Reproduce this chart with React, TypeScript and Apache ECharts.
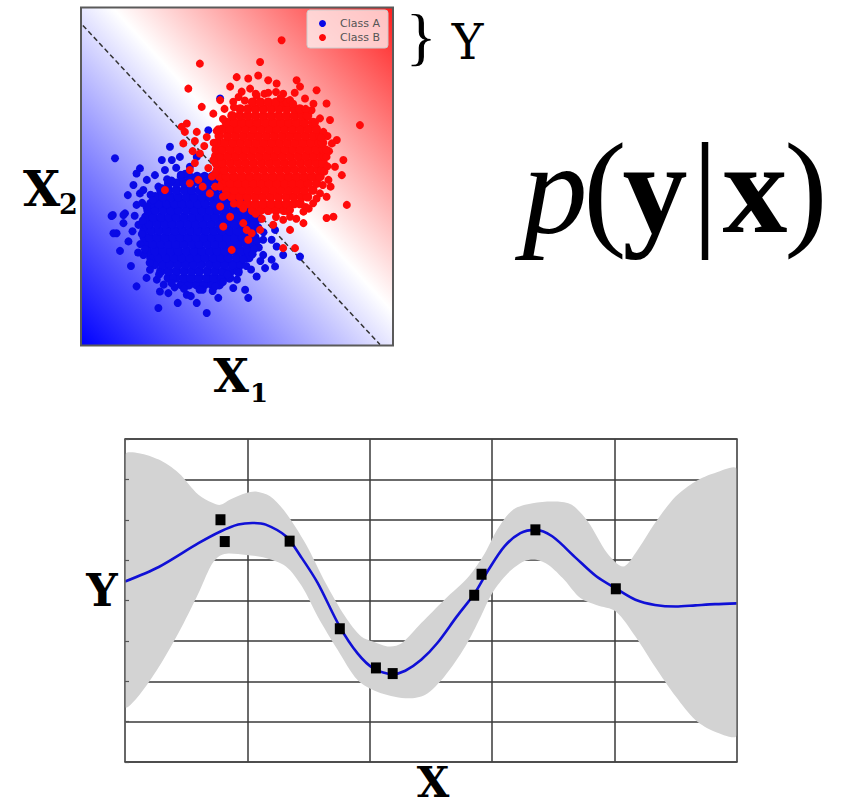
import React, { useEffect, useRef } from "react";
import * as echarts from "echarts";

// ---------- Upper panel: two-class scatter, coordinates in percent of the panel ----------
// Dense cores are listed row by row as [y, xs[]]; stragglers as [x, y] pairs.
const classACore: [number, number[]][] = [
  [18, [32.2, 34.6, 37.1, 39.5, 42.0, 44.3]],
  [20, [28.0, 30.4, 33.0, 35.3, 37.8, 40.4, 42.7, 45.1, 47.6]],
  [22, [25.6, 28.1, 30.7, 33.1, 35.6, 38.0, 40.6, 43.1, 45.5, 48.0, 50.3]],
  [24, [23.6, 26.2, 28.6, 31.1, 33.7, 36.1, 38.6, 41.2, 43.6, 46.1, 48.7, 51.2]],
  [26, [22.4, 24.9, 27.4, 29.9, 32.3, 34.9, 37.4, 39.8, 42.4, 44.9, 47.3, 49.9, 52.4, 53.8]],
  [28, [21.4, 23.8, 26.3, 28.8, 31.2, 33.8, 36.3, 38.7, 41.3, 43.7, 46.2, 48.8, 51.2, 53.6]],
  [30, [20.7, 23.1, 25.6, 28.1, 30.5, 33.0, 35.6, 38.0, 40.5, 43.0, 45.5, 48.0, 50.5, 53.0, 55.3]],
  [32, [20.3, 22.0, 24.5, 27.0, 29.4, 31.9, 34.4, 36.9, 39.4, 41.9, 44.4, 46.8, 49.3, 51.8, 54.2, 55.7]],
  [34, [20.2, 22.6, 25.1, 27.6, 30.1, 32.6, 35.1, 37.6, 40.1, 42.6, 45.1, 47.6, 50.1, 52.6, 55.0]],
  [36, [20.4, 21.9, 24.4, 26.9, 29.3, 31.8, 34.3, 36.8, 39.3, 41.8, 44.3, 46.8, 49.3, 51.8, 54.2, 55.6]],
  [38, [20.8, 23.2, 25.7, 28.2, 30.6, 33.1, 35.7, 38.1, 40.6, 43.1, 45.6, 48.1, 50.6, 53.0, 55.2]],
  [40, [21.5, 23.9, 26.4, 28.9, 31.3, 33.9, 36.4, 38.8, 41.4, 43.8, 46.3, 48.9, 51.3, 53.8]],
  [42, [22.4, 25.0, 27.5, 30.0, 32.4, 35.0, 37.5, 39.9, 42.5, 45.0, 47.4, 50.0, 52.5]],
  [44, [23.8, 26.3, 28.8, 31.2, 33.8, 36.2, 38.8, 41.3, 43.7, 46.2, 48.8, 51.3]],
  [46, [25.6, 28.1, 30.6, 33.1, 35.5, 38.1, 40.6, 43.0, 45.6, 48.1, 50.2]],
  [48, [28.1, 30.6, 33.1, 35.6, 38.1, 40.5, 43.0, 45.5, 47.8]],
  [50, [32.2, 34.7, 37.2, 39.6, 42.1, 44.0]],
];

const classAStray: [number, number][] = [
  [10.2, 38.6], [11.4, 33.2], [13.6, 36.2], [15.2, 30.8], [14.1, 39.1], [17.8, 17.5],
  [24.8, 11.1], [25.3, 16.0], [28.0, 15.5], [33.9, 15.0], [37.1, 12.6], [40.3, 9.6],
  [44.0, 14.1], [48.8, 17.0], [52.6, 16.5], [53.6, 14.1], [56.3, 20.4], [59.0, 22.9],
  [62.2, 23.4], [64.8, 26.8], [70.2, 26.3], [61.1, 31.3], [62.2, 34.2], [20.0, 26.8],
  [22.1, 22.4], [24.3, 19.5], [16.8, 47.5], [18.9, 45.0], [17.8, 41.6], [10.9, 55.4],
  [28.5, 58.8], [25.9, 54.9], [29.1, 54.9], [31.7, 55.8], [18.9, 52.4], [17.8, 50.9],
  [21.1, 49.0], [23.7, 50.4], [20.0, 46.0], [24.8, 47.0], [26.9, 51.9], [9.8, 38.3],
  [13.6, 38.6], [10.4, 33.2], [18.4, 35.7], [40.8, 63.7], [44.6, 73.1], [37.1, 55.8],
  [34.9, 52.9], [58.4, 26.8], [61.1, 25.4], [62.7, 29.3], [58.4, 31.3], [19.0, 30.0],
  [18.3, 27.5], [21.0, 20.0], [26.5, 18.0], [30.0, 17.2], [45.5, 18.8], [50.0, 19.5],
  [54.5, 22.5], [57.5, 25.0], [57.0, 29.0], [58.5, 33.5], [57.4, 37.5], [16.5, 33.8],
  [17.2, 38.4], [19.6, 42.2], [22.3, 44.6], [35.2, 14.6], [42.2, 16.1], [31.0, 12.6],
  [30.5, 52.6], [33.4, 50.8], [27.6, 49.2], [16.0, 23.5], [12.5, 28.0], [15.0, 44.5],
  [29.5, 20.0], [39.0, 16.5], [47.0, 21.0], [52.0, 25.5], [55.5, 28.5],
  [19.5, 33.0], [19.8, 37.0], [20.5, 28.5], [22.0, 24.5], [25.0, 21.0], [29.0, 18.5],
  [33.0, 16.8], [38.0, 16.5], [43.0, 17.5], [50.5, 21.5], [53.0, 23.5], [55.0, 27.0],
  [56.5, 31.0], [56.8, 35.0], [56.0, 39.0], [21.0, 41.0], [23.0, 43.0], [26.0, 46.5],
  [29.0, 48.8], [32.0, 50.5],
];

const classBCore: [number, number[]][] = [
  [40, [55.0, 57.5, 60.0, 62.5, 65.0, 66.3]],
  [42, [51.0, 53.4, 55.9, 58.4, 60.9, 63.4, 65.9, 68.3, 70.2]],
  [44, [48.4, 50.9, 53.3, 55.8, 58.3, 60.8, 63.2, 65.8, 68.2, 70.7, 72.6]],
  [46, [46.6, 49.1, 51.6, 54.1, 56.6, 59.1, 61.6, 64.1, 66.6, 69.1, 71.6, 74.3]],
  [48, [45.4, 47.9, 50.4, 52.8, 55.3, 57.8, 60.3, 62.8, 65.3, 67.8, 70.3, 72.8, 75.5]],
  [50, [44.4, 46.6, 49.1, 51.6, 54.1, 56.6, 59.1, 61.6, 64.1, 66.6, 69.1, 71.6, 74.1, 76.6]],
  [52, [43.8, 46.0, 48.5, 51.0, 53.5, 56.0, 58.5, 61.0, 63.5, 66.0, 68.5, 71.0, 73.5, 76.0, 77.3]],
  [54, [43.3, 45.3, 47.8, 50.3, 52.8, 55.3, 57.8, 60.3, 62.8, 65.3, 67.8, 70.3, 72.8, 75.3, 77.6]],
  [56, [43.2, 44.6, 47.1, 49.6, 52.1, 54.6, 57.1, 59.6, 62.1, 64.6, 67.1, 69.6, 72.1, 74.6, 77.1, 78.0]],
  [58, [43.3, 45.4, 47.9, 50.4, 52.9, 55.4, 57.9, 60.4, 62.9, 65.4, 67.9, 70.4, 72.9, 75.4, 77.7]],
  [60, [43.7, 46.2, 48.7, 51.2, 53.7, 56.2, 58.7, 61.2, 63.7, 66.2, 68.7, 71.2, 73.7, 76.2, 77.4]],
  [62, [44.3, 47.0, 49.5, 52.0, 54.5, 57.0, 59.5, 62.0, 64.5, 67.0, 69.5, 72.0, 74.5, 76.7]],
  [64, [45.4, 47.8, 50.3, 52.8, 55.3, 57.8, 60.3, 62.8, 65.3, 67.8, 70.3, 72.8, 75.4]],
  [66, [46.6, 49.1, 51.6, 54.1, 56.6, 59.1, 61.6, 64.1, 66.6, 69.1, 71.6, 74.3]],
  [68, [48.4, 50.9, 53.4, 55.9, 58.4, 60.9, 63.4, 65.9, 68.4, 70.9, 72.6]],
  [70, [51.0, 53.5, 56.0, 58.5, 61.0, 63.5, 66.0, 68.5, 70.1]],
  [72, [55.0, 57.5, 60.0, 62.5, 65.0, 66.2]],
];

const classBStray: [number, number][] = [
  [38.1, 83.4], [57.4, 83.9], [34.4, 76.0], [49.9, 79.4], [53.6, 79.0], [56.8, 79.9],
  [60.0, 78.5], [62.7, 77.5], [69.1, 78.5], [70.2, 76.6], [75.5, 75.5], [78.7, 71.6],
  [89.4, 65.2], [79.8, 66.7], [82.0, 60.8], [84.1, 54.9], [83.6, 50.4], [85.2, 41.6],
  [80.9, 38.1], [78.7, 37.7], [71.3, 36.2], [67.0, 34.2], [33.9, 65.7], [33.3, 63.2],
  [38.7, 70.6], [42.4, 68.6], [44.6, 72.6], [48.8, 72.1], [47.8, 76.6], [51.5, 75.1],
  [54.2, 76.0], [56.3, 74.0], [64.8, 74.5], [67.0, 72.6], [71.8, 73.1], [73.9, 69.6],
  [76.6, 67.2], [77.7, 63.2], [80.4, 59.8], [78.7, 55.8], [81.4, 52.9], [79.3, 49.0],
  [76.6, 45.0], [78.7, 44.0], [74.4, 42.1], [71.3, 39.6], [67.0, 40.1], [64.8, 37.2],
  [61.6, 35.7], [54.7, 33.2], [48.3, 28.3], [57.4, 34.2], [34.9, 51.9], [37.6, 49.0],
  [41.3, 45.0], [44.6, 41.1], [47.8, 38.1], [52.0, 36.2], [32.8, 59.8], [37.1, 63.2],
  [40.3, 61.7], [38.1, 56.8], [42.4, 54.9], [64.3, 90.3], [64.8, 28.8], [68.6, 28.8],
  [26.9, 46.0], [32.3, 64.7], [53.6, 31.3], [45.6, 35.2], [53.1, 34.2], [34.9, 48.0],
  [67.0, 38.1], [36.5, 60.5], [39.5, 59.0], [35.8, 57.5], [40.8, 52.5], [39.0, 47.0],
  [42.0, 50.0], [36.5, 54.0], [50.5, 73.5], [58.8, 74.5], [62.5, 75.0], [68.5, 74.8],
  [46.0, 70.0], [74.5, 71.5], [79.5, 57.5], [80.0, 47.0], [78.0, 51.5], [79.0, 62.0],
  [58.0, 37.5], [62.5, 38.0], [69.0, 37.5], [73.0, 40.5], [44.0, 64.0], [43.0, 47.0],
  [45.5, 44.0],
  [49.0, 70.5], [52.5, 72.5], [56.0, 74.5], [60.0, 74.8], [64.0, 73.2], [68.0, 71.5],
  [72.0, 70.0], [75.0, 66.0], [77.0, 61.5], [78.5, 58.0], [79.0, 53.0], [77.5, 47.5],
  [75.5, 43.5], [72.0, 41.0], [56.0, 39.0], [52.0, 40.5], [49.0, 42.0], [46.5, 44.5],
  [44.5, 47.0], [43.0, 51.0], [42.5, 60.0], [43.5, 63.5], [45.5, 67.0],
];

// Decision boundary end points
const boundaryX = [0.6, 95.8];
const boundaryY = [94.7, 0.3];

// ---------- Lower panel: regression fit with uncertainty band ----------
const obsX = [0.78, 0.815, 1.345, 1.755, 2.05, 2.187, 2.853, 2.913, 3.353, 4.01];
const obsY = [2.0, 1.46, 1.47, -0.7, -1.67, -1.81, 0.13, 0.65, 1.75, 0.29];

const meanX = [0, 0.276, 0.6, 0.78, 0.925, 1.04, 1.15, 1.315, 1.445, 1.575, 1.753, 1.9, 2.03, 2.19, 2.29, 2.42, 2.55, 2.71, 2.857, 2.97, 3.1, 3.23, 3.354, 3.49, 3.685, 3.85, 4.02, 4.17, 4.33, 4.5, 4.66, 4.82, 5.0];
const meanY = [0.47, 0.83, 1.42, 1.71, 1.88, 1.92, 1.88, 1.59, 1.05, 0.43, -0.64, -1.31, -1.68, -1.82, -1.74, -1.47, -1.06, -0.4, 0.18, 0.76, 1.34, 1.67, 1.75, 1.59, 1.05, 0.6, 0.28, 0.02, -0.11, -0.15, -0.12, -0.09, -0.07];

const upperX = [0, 0.114, 0.276, 0.438, 0.6, 0.714, 0.78, 0.86, 0.99, 1.07, 1.185, 1.315, 1.477, 1.64, 1.8, 1.93, 2.03, 2.16, 2.26, 2.42, 2.61, 2.81, 2.94, 3.04, 3.17, 3.33, 3.52, 3.65, 3.78, 3.94, 4.07, 4.17, 4.33, 4.5, 4.66, 4.82, 5.0];
const upperY = [3.61, 3.65, 3.49, 3.16, 2.62, 2.42, 2.37, 2.5, 2.66, 2.7, 2.58, 2.17, 1.4, 0.43, -0.4, -0.89, -1.02, -1.14, -1.06, -0.56, 0.02, 0.6, 1.17, 1.75, 2.25, 2.41, 2.45, 2.37, 1.96, 1.17, 0.84, 1.17, 1.92, 2.58, 2.95, 3.16, 3.24];

const lowerX = [0, 0.114, 0.276, 0.438, 0.6, 0.7, 0.76, 0.83, 0.99, 1.15, 1.315, 1.445, 1.575, 1.737, 1.9, 2.06, 2.29, 2.45, 2.61, 2.78, 2.906, 3.0, 3.13, 3.26, 3.36, 3.46, 3.59, 3.72, 3.85, 4.01, 4.17, 4.33, 4.5, 4.66, 4.82, 5.0];
const lowerY = [-2.63, -2.35, -1.65, -0.8, 0.18, 0.85, 1.08, 1.16, 1.13, 1.05, 0.84, 0.35, -0.4, -1.22, -1.97, -2.26, -2.42, -2.34, -1.88, -1.14, -0.4, 0.18, 0.68, 0.97, 1.01, 0.88, 0.51, 0.06, -0.11, -0.27, -0.89, -1.64, -2.38, -2.96, -3.25, -3.33];

const SERIF = '"DejaVu Serif", serif';
const TIMES = '"Liberation Serif", serif';
const MID = 0.34; // central baseline offset, in em

function glyph(
  text: string,
  cx: number,
  baseline: number,
  size: number,
  family: string,
  weight = "normal",
  fontStyle = "normal"
) {
  return {
    type: "text",
    x: cx,
    y: baseline - size * MID,
    silent: true,
    style: {
      text,
      fill: "#000",
      font: `${fontStyle} ${weight} ${size}px ${family}`,
      lineHeight: Math.round(size * 0.72),
      textAlign: "center",
      textVerticalAlign: "middle",
      align: "center",
      verticalAlign: "middle",
    },
  };
}

export default function App() {
  const ref = useRef<HTMLDivElement>(null);

  useEffect(() => {
    if (!ref.current) return;
    const chart = echarts.init(ref.current, undefined, { renderer: "svg" });

    const flatten = (rows: [number, number[]][]) =>
      rows.flatMap(([y, xs]) => xs.map((x) => [x, y]));
    const pairs = (xs: number[], ys: number[]) => xs.map((x, i) => [x, ys[i]]);

    const coreA = flatten(classACore);
    const coreB = flatten(classBCore);
    const classA = [...coreA, ...classAStray];
    const classB = [...coreB, ...classBStray];
    // Packed cores use slightly larger dots so they read as solid blobs.
    const sizeBy = (coreCount: number) => (_v: any, p: any) =>
      p.dataIndex < coreCount ? 9.5 : 8;

    const hidden = {
      axisLine: { show: false },
      axisTick: { show: false },
      axisLabel: { show: false },
      splitLine: { show: false },
    };
    const frame = { show: true, onZero: false, lineStyle: { color: "#444", width: 1.5 } };

    const option: any = {
      animation: false,
      legend: {
        data: ["Class A", "Class B"],
        orient: "vertical",
        left: 307,
        top: 10,
        padding: [8, 8, 5, 12],
        itemGap: 3,
        itemWidth: 7,
        itemHeight: 7,
        icon: "circle",
        backgroundColor: "rgba(255,255,255,0.72)",
        borderColor: "#cccccc",
        borderWidth: 1,
        borderRadius: 3,
        textStyle: { fontSize: 11, color: "#555", fontFamily: '"DejaVu Sans", sans-serif', padding: [0, 0, 0, 9] },
        selectedMode: false,
      },
      grid: [
        {
          left: 81,
          top: 7.5,
          width: 312,
          height: 338,
          show: true,
          borderColor: "#5a5a5a",
          borderWidth: 2,
          backgroundColor: new echarts.graphic.LinearGradient(0, 1, 1, 0, [
            { offset: 0, color: "#0000ff" },
            { offset: 0.55, color: "#ffffff" },
            { offset: 1, color: "#ff1e1e" },
          ]),
        },
        { left: 125, top: 439, width: 612, height: 323 },
      ],
      xAxis: [
        { gridIndex: 0, type: "value", min: 0, max: 100, show: false },
        {
          gridIndex: 1, type: "value", min: 0, max: 5, interval: 1,
          ...hidden,
          splitLine: { show: true, lineStyle: { color: "#3a3a3a", width: 1.5 } },
        },
        { gridIndex: 1, type: "value", min: 0, max: 5, position: "bottom", ...hidden, axisLine: frame, z: 6 },
        { gridIndex: 1, type: "value", min: 0, max: 5, position: "top", ...hidden, axisLine: frame, z: 6 },
      ],
      yAxis: [
        { gridIndex: 0, type: "value", min: 0, max: 100, show: false },
        {
          gridIndex: 1, type: "value", min: -4, max: 4, interval: 1,
          ...hidden,
          splitLine: { show: true, lineStyle: { color: "#3a3a3a", width: 1.5 } },
        },
        {
          gridIndex: 1, type: "value", min: -4, max: 4, interval: 1, position: "left",
          ...hidden,
          axisLine: { show: true, onZero: false, lineStyle: { color: "#666", width: 1.5 } },
          axisTick: { show: true, inside: true, length: 4, lineStyle: { color: "#555", width: 1.2 } },
          z: 6,
        },
        {
          gridIndex: 1, type: "value", min: -4, max: 4, position: "right",
          ...hidden,
          axisLine: { show: true, onZero: false, lineStyle: { color: "#666", width: 1.5 } },
          z: 6,
        },
      ],
      series: [
        {
          type: "line",
          xAxisIndex: 0,
          yAxisIndex: 0,
          data: pairs(boundaryX, boundaryY),
          symbol: "none",
          silent: true,
          lineStyle: { color: "#333", width: 1.5, type: [5, 3] },
          z: 1,
        },
        {
          name: "Class A",
          type: "scatter",
          xAxisIndex: 0,
          yAxisIndex: 0,
          data: classA,
          symbolSize: sizeBy(coreA.length),
          itemStyle: { color: "#0a0ae6", opacity: 1 },
          silent: true,
          z: 2,
        },
        {
          name: "Class B",
          type: "scatter",
          xAxisIndex: 0,
          yAxisIndex: 0,
          data: classB,
          symbolSize: sizeBy(coreB.length),
          itemStyle: { color: "#ff0a0a", opacity: 1 },
          silent: true,
          z: 3,
        },
        {
          type: "custom",
          xAxisIndex: 1,
          yAxisIndex: 1,
          data: [[0, 0]],
          encode: { x: 0, y: 1 },
          clip: true,
          silent: true,
          z: 1,
          renderItem: (_p: any, api: any) => {
            const top = upperX.map((x, i) => api.coord([x, upperY[i]]));
            const bottom = lowerX.map((x, i) => api.coord([x, lowerY[i]])).reverse();
            return {
              type: "polygon",
              shape: { points: top.concat(bottom), smooth: 0.3 },
              style: { fill: "#d3d3d3" },
            };
          },
        },
        {
          type: "line",
          xAxisIndex: 1,
          yAxisIndex: 1,
          data: pairs(meanX, meanY),
          smooth: 0.3,
          symbol: "none",
          silent: true,
          lineStyle: { color: "#1010d6", width: 2.6 },
          z: 3,
        },
        {
          type: "scatter",
          xAxisIndex: 1,
          yAxisIndex: 1,
          data: pairs(obsX, obsY),
          symbol: "rect",
          symbolSize: [10, 11],
          itemStyle: { color: "#000", opacity: 1 },
          silent: true,
          z: 4,
        },
      ],
      graphic: [
        glyph("X", 41.5, 205, 48, SERIF, "bold"),
        glyph("2", 68.5, 214, 27, SERIF, "bold"),
        glyph("X", 231, 392, 46, SERIF, "bold"),
        glyph("1", 259, 402, 26, SERIF, "bold"),
        glyph("}", 421, 58.5, 64, TIMES),
        glyph("Y", 467.5, 58, 48, SERIF),
        glyph("p", 555, 232, 130, TIMES, "normal", "italic"),
        glyph("(", 605, 232, 130, TIMES),
        glyph("y", 655, 232, 130, TIMES, "bold"),
        glyph("|", 705, 232, 130, TIMES),
        glyph("x", 755, 232, 130, TIMES, "bold"),
        glyph(")", 806, 232, 130, TIMES),
        glyph("Y", 102, 605, 44, SERIF, "bold"),
        glyph("X", 433, 797, 42, SERIF, "bold"),
      ],
    };

    chart.setOption(option);
    return () => chart.dispose();
  }, []);

  return (
    <div
      ref={ref}
      style={{ position: "absolute", left: 0, top: 0, width: 843, height: 808 }}
    />
  );
}
